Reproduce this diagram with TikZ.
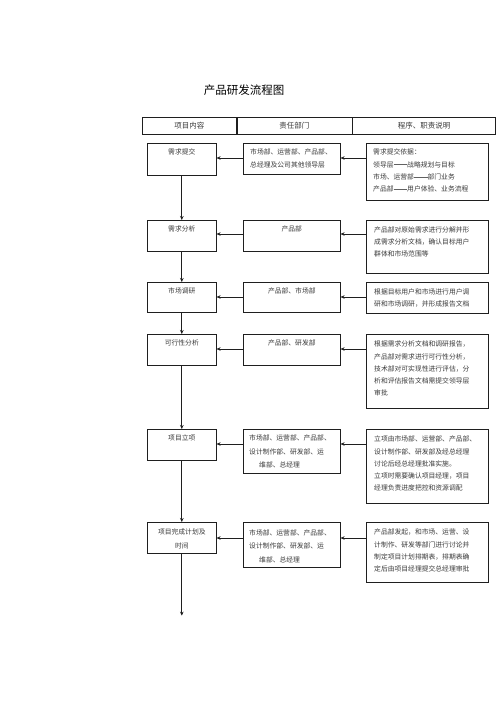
\documentclass[tikz,border=0pt]{standalone}
\usepackage{fontspec}
\newfontfamily\cjk{Noto Sans CJK SC}
\usepackage{tikz}
\usetikzlibrary{
  arrows.meta,
  positioning
}
\definecolor{linecol}{HTML}{1F1F1F}
\definecolor{txtcol}{HTML}{3A3A3A}
\newcommand\ddash{\textcolor{txtcol!80}{\rule[0.36em]{2em}{0.25pt}}}

\begin{document}
\begin{tikzpicture}[
  x=1pt, y=-1pt,
  box/.style={draw=linecol, line width=0.6pt, anchor=north west, inner sep=0pt},
  hcell/.style={box, minimum height=17pt, font=\cjk\fontsize{7.5}{9}\selectfont, text=txtcol},
  lbox/.style={box, minimum width=69pt},
  mbox/.style={box, minimum width=97pt},
  rbox/.style={box, line width=0.9pt, minimum width=122pt},
  txt/.style={inner sep=0pt, text=txtcol, font=\cjk\fontsize{6.8}{12.2}\selectfont},
  mtxt/.style={txt, align=left, anchor=north west, font=\cjk\fontsize{6.8}{13.5}\selectfont},
  rtxt/.style={txt, align=left, anchor=north west},
  >={Stealth[length=4pt,width=3.6pt]},
  flow/.style={->, line width=0.9pt, draw=linecol},
]
  \path[fill=white, use as bounding box] (0,0) rectangle (500,708);

  % Title and header
  \node[font=\cjk\fontsize{11.5}{14}\selectfont, text=black] (title) at (244,90) {产品研发流程图};
  \node[hcell, minimum width=94pt] (h1) at (142,117) {项目内容};
  \node[hcell, minimum width=115pt] (h2) at (h1.north east) {责任部门};
  \node[hcell, minimum width=143pt] (h3) at (h2.north east) {程序、职责说明};

  % Row 1
  \node[lbox, minimum height=32pt] (l1) at (147,143) {};
  \node[txt, below=5.5pt of l1.north] (l1t) {需求提交};
  \node[mbox, minimum height=31pt] (m1) at (243,143) {};
  \node[rtxt] (m1t) at ([xshift=7pt,yshift=-6pt]m1.north west) {市场部、运营部、产品部、\\总经理及公司其他领导层};
  \node[rbox, minimum height=57pt] (r1) at (366,143) {};
  \node[rtxt] (r1t) at ([xshift=7pt,yshift=-6pt]r1.north west) {需求提交依据：\\领导层\ddash 战略规划与目标\\市场、运营部\ddash 部门业务\\产品部\ddash 用户体验、业务流程};

  % Row 2
  \node[lbox, minimum height=31pt] (l2) at (147,220) {};
  \node[txt, below=5.5pt of l2.north] (l2t) {需求分析};
  \node[mbox, minimum height=31pt] (m2) at (243,220) {};
  \node[txt, below=5.5pt of m2.north] (m2t) {产品部};
  \node[rbox, minimum height=53pt] (r2) at (366,220) {};
  \node[rtxt] (r2t) at ([xshift=8pt,yshift=-6.5pt]r2.north west) {产品部对原始需求进行分解并形\\成需求分析文档，确认目标用户\\群体和市场范围等};

  % Row 3
  \node[lbox, minimum height=30pt] (l3) at (147,282) {};
  \node[txt, below=5.5pt of l3.north] (l3t) {市场调研};
  \node[mbox, minimum height=30pt] (m3) at (243,282) {};
  \node[txt, below=5.5pt of m3.north] (m3t) {产品部、市场部};
  \node[rbox, minimum height=31pt] (r3) at (366,282) {};
  \node[rtxt] (r3t) at ([xshift=8pt,yshift=-6.5pt]r3.north west) {根据目标用户和市场进行用户调\\研和市场调研，并形成报告文档};

  % Row 4
  \node[lbox, minimum height=31pt] (l4) at (147,334) {};
  \node[txt, below=5.5pt of l4.north] (l4t) {可行性分析};
  \node[mbox, minimum height=31pt] (m4) at (243,334) {};
  \node[txt, below=5.5pt of m4.north] (m4t) {产品部、研发部};
  \node[rbox, minimum height=74pt] (r4) at (366,334) {};
  \node[rtxt] (r4t) at ([xshift=8pt,yshift=-7pt]r4.north west) {根据需求分析文档和调研报告，\\产品部对需求进行可行性分析，\\技术部对可实现性进行评估，分\\析和评估报告文档需提交领导层\\审批};

  % Row 5
  \node[lbox, minimum height=31pt] (l5) at (147,429) {};
  \node[txt, below=5.5pt of l5.north] (l5t) {项目立项};
  \node[mbox, minimum height=44pt] (m5) at (243,429) {};
  \node[mtxt] (m5t) at ([xshift=6pt,yshift=-6pt]m5.north west) {市场部、运营部、产品部、\\设计制作部、研发部、运\\\hspace*{10pt}维部、总经理};
  \node[rbox, minimum height=74pt] (r5) at (366,429) {};
  \node[rtxt] (r5t) at ([xshift=8pt,yshift=-7pt]r5.north west) {立项由市场部、运营部、产品部、\\设计制作部、研发部及经总经理\\讨论后经总经理批准实施。\\立项时需要确认项目经理，项目\\经理负责进度把控和资源调配};

  % Row 6
  \node[lbox, minimum height=31pt] (l6) at (147,522) {};
  \node[txt, align=center, below=7pt of l6.north, font=\cjk\fontsize{6.8}{13.5}\selectfont] (l6t) {项目完成计划及\\时间};
  \node[mbox, minimum height=45pt] (m6) at (243,522) {};
  \node[mtxt] (m6t) at ([xshift=6pt,yshift=-7.5pt]m6.north west) {市场部、运营部、产品部、\\设计制作部、研发部、运\\\hspace*{10pt}维部、总经理};
  \node[rbox, minimum height=60pt] (r6) at (366,522) {};
  \node[rtxt] (r6t) at ([xshift=8pt,yshift=-7pt]r6.north west) {产品部发起，和市场、运营、设\\计制作、研发等部门进行讨论并\\制定项目计划排期表，排期表确\\定后由项目经理提交总经理审批};
  \coordinate[below=62pt of l6.south] (end);

  % Arrows right to left
  \draw[flow] ([yshift=-15pt]r1.north west) -- ([yshift=-15pt]m1.north east);
  \draw[flow] ([yshift=-15pt]m1.north west) -- ([yshift=-15pt]l1.north east);
  \draw[flow] ([yshift=-14pt]r2.north west) -- ([yshift=-14pt]m2.north east);
  \draw[flow] ([yshift=-14pt]m2.north west) -- ([yshift=-14pt]l2.north east);
  \draw[flow] ([yshift=-15pt]r3.north west) -- ([yshift=-15pt]m3.north east);
  \draw[flow] ([yshift=-15pt]m3.north west) -- ([yshift=-15pt]l3.north east);
  \draw[flow] ([yshift=-15pt]r4.north west) -- ([yshift=-15pt]m4.north east);
  \draw[flow] ([yshift=-15pt]m4.north west) -- ([yshift=-15pt]l4.north east);
  \draw[flow] ([yshift=-15pt]r5.north west) -- ([yshift=-15pt]m5.north east);
  \draw[flow] ([yshift=-15pt]m5.north west) -- ([yshift=-15pt]l5.north east);
  \draw[flow] ([yshift=-16pt]r6.north west) -- ([yshift=-16pt]m6.north east);
  \draw[flow] ([yshift=-16pt]m6.north west) -- ([yshift=-16pt]l6.north east);

  % Main flow down
  \draw[flow] (l1) -- (l2);
  \draw[flow] (l2) -- (l3);
  \draw[flow] (l3) -- (l4);
  \draw[flow] (l4) -- (l5);
  \draw[flow] (l5) -- (l6);
  \draw[flow] (l6) -- (end);
\end{tikzpicture}
\end{document}
